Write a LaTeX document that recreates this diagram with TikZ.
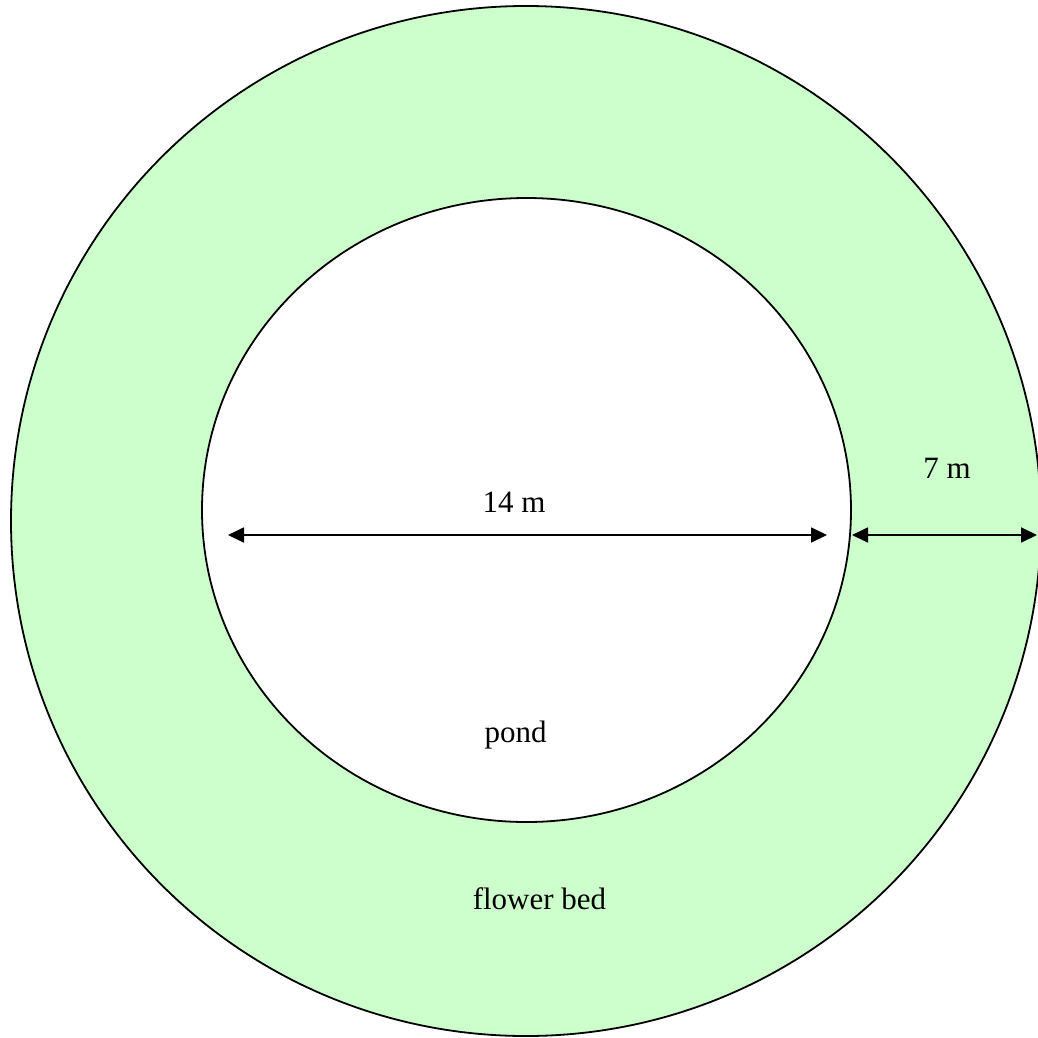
\documentclass[tikz,border=0pt]{standalone}
\usepackage{fontspec}
\setmainfont{Liberation Serif}
\usetikzlibrary{arrows.meta}
\definecolor{bedgreen}{HTML}{CCFFCC}
\begin{document}
\begin{tikzpicture}[x=1pt,y=-1pt,
  outline/.style={draw=black,line width=1.8pt},
  dimarrow/.style={line width=1.8pt,{Triangle[length=16pt,width=15pt]}-{Triangle[length=16pt,width=15pt]}},
  lbl/.style={anchor=base,inner sep=0pt,font=\fontsize{31}{37}\selectfont}]
\useasboundingbox (0,0) rectangle (1038,1038);
\fill[white] (0,0) rectangle (1038,1038);
\begin{scope}
\clip (0,0) rectangle (1038,1038);
\draw[outline,fill=bedgreen] (526,521) circle[radius=515];
\end{scope}
\draw[outline,fill=white] (526.5,510) ellipse[x radius=324.5,y radius=312];
\coordinate (a1) at (228,535);
\coordinate (a2) at (827,535);
\coordinate (b1) at (852,535);
\coordinate (b2) at (1037,535);
\draw[dimarrow] (a1) -- (a2);
\draw[dimarrow] (b1) -- (b2);
\node[lbl] (d14) at (514,512) {14 m};
\node[lbl] (d7) at (947,478) {7 m};
\node[lbl] (pond) at (515.5,742) {pond};
\node[lbl] (bed) at (539.5,909) {flower bed};
\end{tikzpicture}
\end{document}
